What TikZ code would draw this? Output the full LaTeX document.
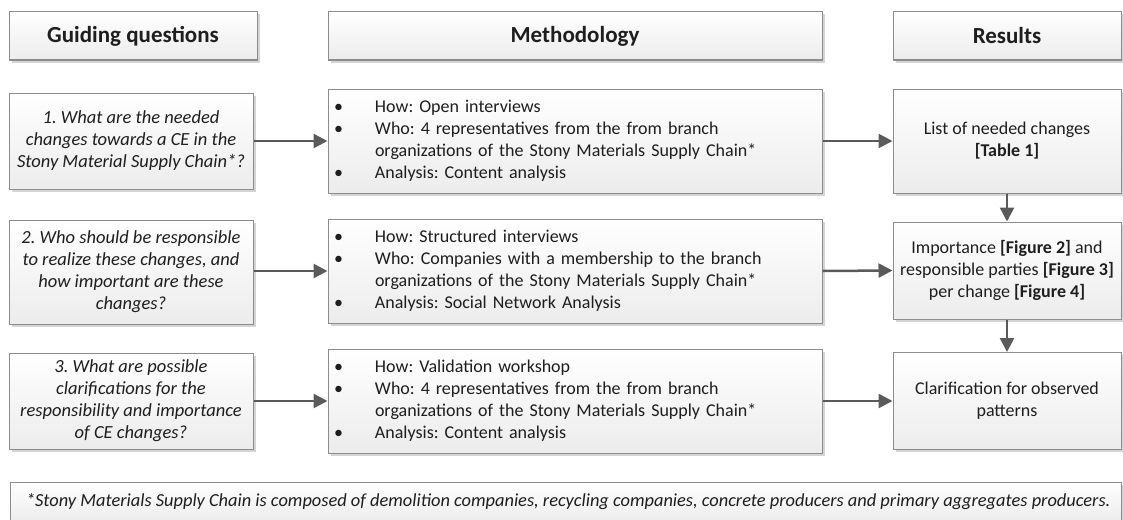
\documentclass[tikz,border=0pt]{standalone}
\usepackage{fontspec}
\setmainfont{Carlito}
\frenchspacing
\usetikzlibrary{shadows,arrows.meta}
\definecolor{boxline}{HTML}{8C8C8C}
\definecolor{boxbot}{HTML}{ECECEC}
\definecolor{shadowc}{HTML}{D4D4D4}
\definecolor{arrowc}{HTML}{5A5A5A}
\definecolor{textc}{HTML}{1E1E1E}
\newcommand{\bitem}[1]{\makebox[41pt][l]{\textbullet}#1}
\newcommand{\bcont}[1]{\hspace*{41pt}#1}
\tikzset{
  box/.style={draw=boxline, line width=1pt, top color=white, bottom color=boxbot,
    drop shadow={shadow xshift=2.5pt, shadow yshift=-2.5pt, fill=shadowc, opacity=1},
    inner sep=0pt, align=center, text=textc, font=\fontsize{18}{22}\selectfont},
  headbox/.style={box, font=\fontsize{23}{26}\selectfont\bfseries, minimum height=48pt},
  qbox/.style={box, minimum width=244pt, font=\fontsize{18.5}{22}\selectfont\itshape},
  mbox/.style={box, minimum width=494pt, minimum height=104pt, text width=482pt, align=left, inner xsep=6pt},
  rbox/.style={box, minimum width=228pt, minimum height=97pt},
  conn/.style={draw=arrowc, line width=2.5pt, -{Triangle[length=14pt,width=14pt]}}
}
\begin{document}
\begin{tikzpicture}[x=1pt,y=-1pt]
\useasboundingbox (0,0) rectangle (1123,519);
% headers
\node[headbox, minimum width=248pt] (hg) at (133,36) {Guiding questions};
\node[headbox, minimum width=494pt] (hm) at (575,36) {Methodology};
\node[headbox, minimum width=228pt] (hr) at (1007,36) {Results};
% row 1
\node[qbox, minimum height=96pt] (q1) at (131,141) {1. What are the needed\\changes towards a CE in the\\Stony Material Supply Chain*?};
\node[mbox] (m1) at (575,141) {\bitem{How: Open interviews}\\\bitem{Who: 4 representatives from the from branch}\\\bcont{organizations of the Stony Materials Supply Chain*}\\\bitem{Analysis: Content analysis}};
\node[rbox, minimum height=104pt] (r1) at (1007,141) {List of needed changes\\\textbf{[Table 1]}};
% row 2
\node[qbox, minimum height=104pt] (q2) at (131,272) {2. Who should be responsible\\to realize these changes, and\\how important are these\\changes?};
\node[mbox] (m2) at (575,271) {\bitem{How: Structured interviews}\\\bitem{Who: Companies with a membership to the branch}\\\bcont{organizations of the Stony Materials Supply Chain*}\\\bitem{Analysis: Social Network Analysis}};
\node[rbox] (r2) at (1007,270.5) {Importance \textbf{[Figure 2]} and\\responsible parties \textbf{[Figure 3]}\\per change \textbf{[Figure 4]}};
% row 3
\node[qbox, minimum height=96pt] (q3) at (131,401) {3. What are possible\\clarifications for the\\responsibility and importance\\of CE changes?};
\node[mbox] (m3) at (575,401) {\bitem{How: Validation workshop}\\\bitem{Who: 4 representatives from the from branch}\\\bcont{organizations of the Stony Materials Supply Chain*}\\\bitem{Analysis: Content analysis}};
\node[rbox] (r3) at (1007,401) {Clarification for observed\\patterns};
% footnote
\node[box, minimum width=1111pt, minimum height=40pt, inner xsep=16pt, font=\fontsize{18.4}{22}\selectfont\itshape] (fn) at (565.5,502) {\makebox[1079pt][l]{*Stony Materials Supply Chain is composed of demolition companies, recycling companies, concrete producers and primary aggregates producers.}};
% connectors
\draw[conn] (q1.east) -- (m1.west);
\draw[conn] (m1.east) -- (r1.west);
\draw[conn] (q2.east |- m2.west) -- (m2.west);
\draw[conn] (m2.east) -- (r2.west);
\draw[conn] (q3.east) -- (m3.west);
\draw[conn] (m3.east) -- (r3.west);
\draw[conn] (r1.south) -- (r2.north);
\draw[conn] (r2.south) -- (r3.north);
\end{tikzpicture}
\end{document}
